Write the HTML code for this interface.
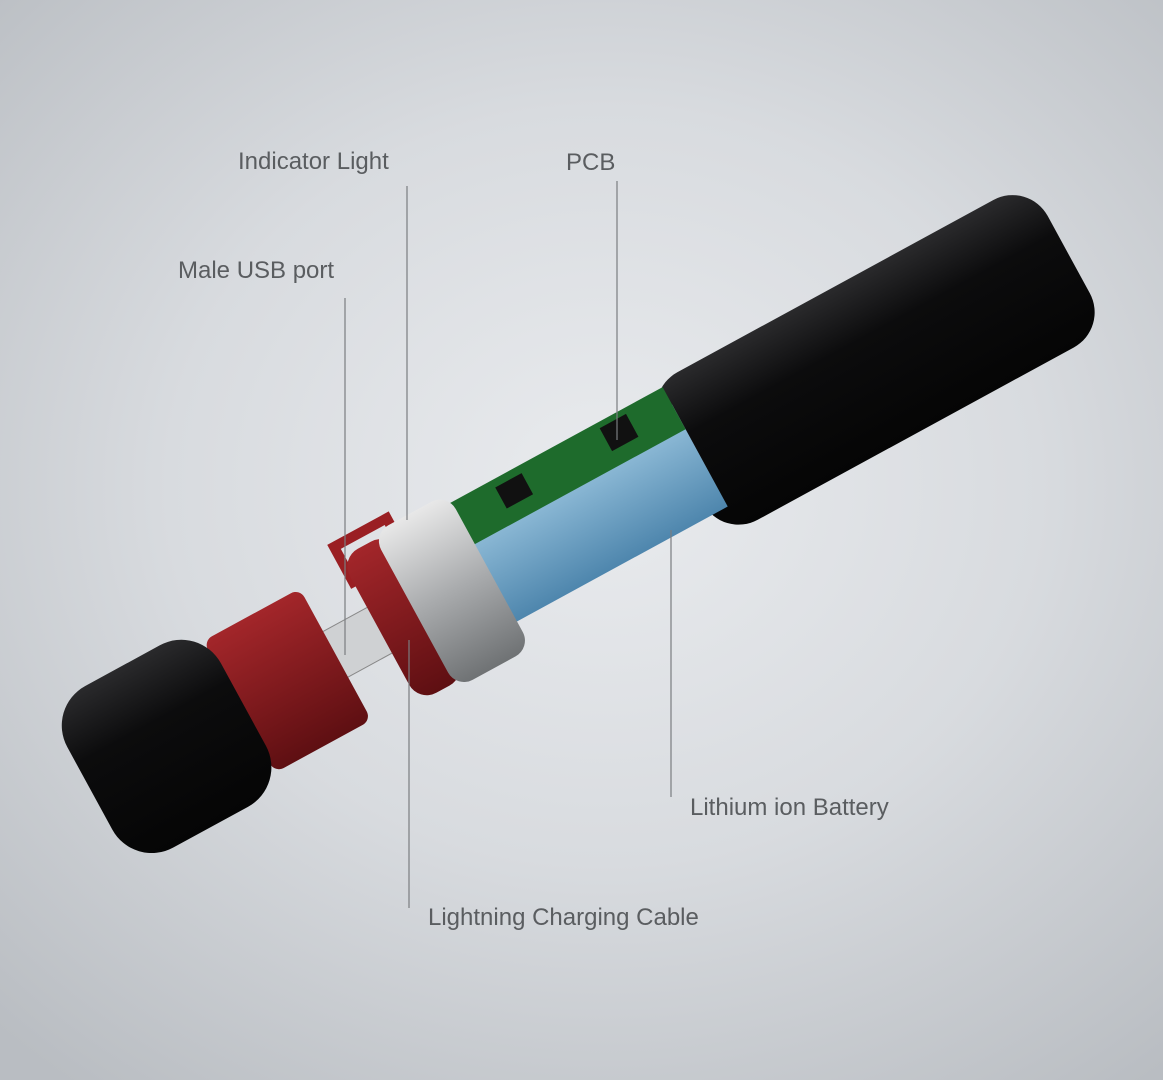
<!DOCTYPE html>
<html><head><meta charset="utf-8">
<style>
html,body{margin:0;padding:0}
body{width:1163px;height:1080px;overflow:hidden;background:radial-gradient(ellipse 75% 70% at 52% 45%,#e9ebee 0%,#d8dbdf 50%,#b9bdc2 100%);position:relative;font-family:"Liberation Sans",sans-serif}
.l{position:absolute;font-size:24px;color:#5a5d60;white-space:nowrap}
svg{position:absolute;left:0;top:0}
</style></head><body>
<svg width="1163" height="1080" viewBox="0 0 1163 1080">
<defs>
<linearGradient id="blk" x1="0" y1="0" x2="0" y2="1">
<stop offset="0" stop-color="#2a2a2c"/><stop offset="0.35" stop-color="#0c0c0d"/><stop offset="1" stop-color="#050505"/></linearGradient>
<linearGradient id="sil" x1="0" y1="0" x2="0" y2="1">
<stop offset="0" stop-color="#e8e8e8"/><stop offset="0.5" stop-color="#a9abad"/><stop offset="1" stop-color="#6f7274"/></linearGradient>
<linearGradient id="red" x1="0" y1="0" x2="0" y2="1">
<stop offset="0" stop-color="#a3262a"/><stop offset="1" stop-color="#5e0f12"/></linearGradient>
<linearGradient id="bat" x1="0" y1="0" x2="0" y2="1">
<stop offset="0" stop-color="#9cc6e0"/><stop offset="1" stop-color="#4e86ad"/></linearGradient>
</defs>
<g transform="translate(160,750) rotate(-28.6)">
<rect x="595" y="-84" width="440" height="168" rx="40" fill="url(#blk)"/>
<rect x="360" y="-58" width="255" height="116" fill="url(#bat)"/>
<rect x="340" y="-78" width="275" height="48" fill="#1e6b2c"/>
<rect x="420" y="-70" width="30" height="24" fill="#111"/>
<rect x="540" y="-72" width="30" height="26" fill="#111"/>
<rect x="180" y="-26" width="90" height="52" fill="#cfd1d3" stroke="#888"/>
<rect x="250" y="-95" width="60" height="40" fill="none" stroke="#9a1f23" stroke-width="10"/>
<rect x="250" y="-82" width="55" height="164" rx="20" fill="url(#red)"/>
<rect x="290" y="-88" width="85" height="176" rx="18" fill="url(#sil)"/>
<rect x="90" y="-75" width="110" height="150" rx="10" fill="url(#red)"/>
<rect x="-80" y="-92" width="175" height="184" rx="45" fill="url(#blk)"/>
</g>
<g stroke="#7a7d80" stroke-width="1.2" fill="none">
<line x1="407" y1="186" x2="407" y2="520"/>
<line x1="617" y1="181" x2="617" y2="440"/>
<line x1="345" y1="298" x2="345" y2="655"/>
<line x1="671" y1="530" x2="671" y2="797"/>
<line x1="409" y1="640" x2="409" y2="908"/>
</g>
</svg>
<div class="l" style="left:238px;top:148px">Indicator Light</div>
<div class="l" style="left:566px;top:149px">PCB</div>
<div class="l" style="left:178px;top:257px">Male USB port</div>
<div class="l" style="left:690px;top:794px">Lithium ion Battery</div>
<div class="l" style="left:428px;top:904px">Lightning Charging Cable</div>
</body></html>
